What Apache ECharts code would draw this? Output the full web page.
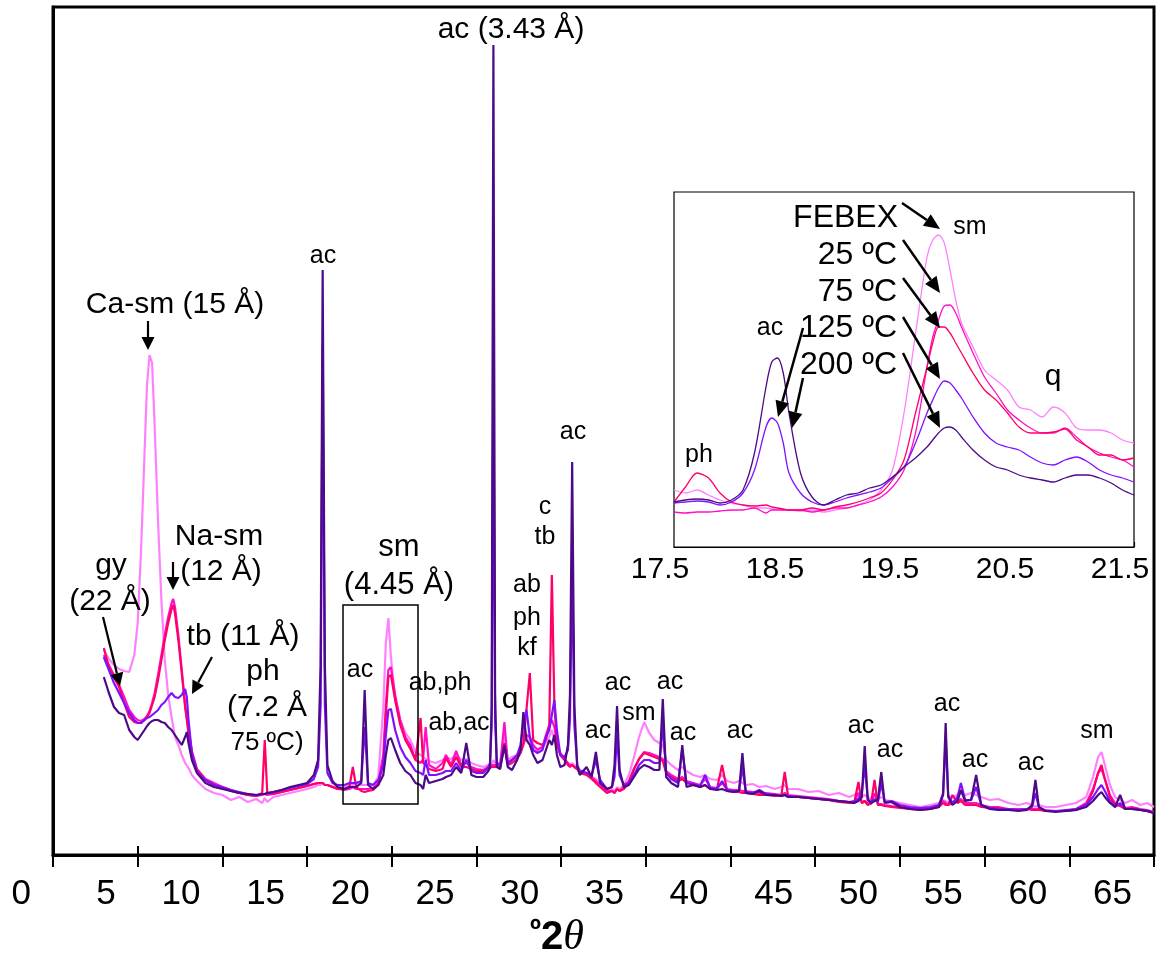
<!DOCTYPE html>
<html><head><meta charset="utf-8">
<script src="https://cdn.jsdelivr.net/npm/echarts@6/dist/echarts.min.js"></script>
<style>html,body{margin:0;padding:0;background:#fff}#c{width:1157px;height:964px}</style>
</head><body><div id="c"></div>
<script>
// ---------- main diffractogram (º2θ) ----------
const twoTheta = [
 3.0,3.3,3.6,3.9,4.2,4.5,4.8,5.0,5.2,5.4,
 5.55,5.7,5.85,6.0,6.2,6.4,6.6,6.8,7.0,7.1,
 7.2,7.4,7.6,7.8,7.9,8.0,8.2,8.5,9.0,9.5,
 10,10.5,11,11.5,12,12.35,12.5,12.65,13,13.5,
 14,14.5,15,15.4,15.65,15.8,15.92,16.05,16.2,16.5,
 16.8,17.2,17.5,17.7,17.9,18.2,18.4,18.6,18.9,19.2,
 19.5,19.65,19.8,19.95,20.2,20.5,20.8,21.1,21.4,21.7,
 21.85,22.0,22.2,22.6,23.0,23.2,23.5,23.8,24.1,24.4,
 24.7,25.0,25.4,25.7,25.8,25.9,26.0,26.1,26.2,26.4,
 26.65,26.85,27.1,27.4,27.6,27.77,27.95,28.15,28.35,28.6,
 28.9,29.1,29.3,29.45,29.6,29.75,29.95,30.2,30.4,30.52,
 30.65,30.78,30.95,31.1,31.5,31.8,32.05,32.3,32.7,33.0,
 33.15,33.3,33.45,33.7,34.0,34.3,34.6,34.9,35.2,35.5,
 35.8,36.0,36.2,36.5,36.9,37.15,37.4,37.8,38.2,38.5,
 38.8,39.2,39.5,39.8,40.2,40.5,40.7,40.9,41.3,41.7,
 42.1,42.6,43.0,43.2,43.4,44.0,44.6,45.2,45.8,46.4,
 47.0,47.3,47.55,47.75,47.92,48.1,48.3,48.5,48.7,48.9,
 49.1,49.5,50.0,50.6,51.2,51.8,52.3,52.55,52.7,52.85,
 53.1,53.4,53.6,53.85,54.2,54.5,54.8,55.3,55.8,56.4,
 57.0,57.5,57.8,58.0,58.2,58.6,59.2,59.8,60.4,61.0,
 61.4,61.7,61.9,62.1,62.4,62.7,63.0,63.3,63.7,64.2,
 64.6,65.0
];
const febex = [
 205,196,190,186,184,183,200,232,305,400,
 470,500,492,430,334,255,195,160,138,128,
 118,110,100,92,90,87,80,74,66,62,
 60,55,58,53,56,52,57,53,58,60,
 62,64,66,68,70,70,72,70,70,68,
 70,68,71,70,72,70,70,70,70,78,
 148,212,237,198,155,135,122,115,103,100,
 98,96,94,92,95,98,96,100,95,96,
 92,90,88,90,92,90,95,92,90,92,
 122,95,98,100,105,112,118,112,108,106,
 108,112,118,125,115,108,100,95,92,90,
 92,90,88,85,82,78,76,72,66,66,
 64,68,66,70,80,98,118,133,122,115,
 112,110,95,90,85,88,84,80,78,80,
 76,75,80,74,72,74,72,70,71,68,
 69,66,68,70,66,66,63,64,60,62,
 58,60,62,58,60,58,56,60,56,58,
 55,54,52,50,48,50,52,55,54,52,
 58,60,62,60,62,60,58,55,56,52,
 50,52,50,48,50,48,48,50,52,58,
 78,98,103,90,70,58,55,52,55,50,
 52,48
];
const c25 = [
 200,190,180,170,158,145,138,135,134,136,
 139,144,152,162,180,200,220,238,252,256,
 248,220,186,150,138,125,104,86,76,72,
 68,65,62,60,59,60,61,60,61,63,
 65,67,69,71,72,72,72,70,70,68,
 66,65,66,68,66,66,66,66,67,72,
 100,150,185,188,160,135,118,110,95,92,
 96,128,90,86,92,100,90,104,90,92,
 88,86,85,88,90,90,92,90,88,90,
 133,92,95,98,102,110,120,118,110,105,
 108,120,130,135,128,112,102,96,92,90,
 90,88,86,84,82,78,74,70,64,64,
 62,66,64,68,74,86,96,103,102,100,
 98,96,84,80,76,78,74,72,70,76,
 68,67,72,66,65,65,64,64,63,62,
 62,61,60,62,60,59,58,57,56,54,
 53,53,62,52,54,52,51,62,51,51,
 50,49,48,47,46,47,48,54,52,50,
 52,54,56,52,52,52,50,48,48,46,
 46,46,46,46,46,45,44,44,46,52,
 66,82,86,76,60,52,50,47,48,46,
 45,43
];
const c75 = [
 207,188,178,168,152,138,133,132,132,135,
 138,142,150,158,175,195,215,232,246,250,
 242,215,182,148,135,122,102,85,75,70,
 67,64,62,60,59,62,115,62,61,63,
 65,67,69,71,72,72,72,70,70,68,
 66,66,68,88,68,64,63,64,65,70,
 92,140,178,180,155,130,115,106,95,137,
 92,90,86,84,86,97,88,98,88,88,
 86,84,84,86,88,88,90,88,86,88,
 112,90,92,96,102,112,145,182,115,112,
 110,115,130,280,150,112,100,95,90,88,
 90,88,86,82,80,76,72,68,62,64,
 62,66,64,66,72,86,96,102,100,98,
 96,94,82,78,74,76,72,70,68,70,
 66,66,90,64,63,63,62,62,61,60,
 60,59,60,83,58,58,57,56,55,53,
 52,52,73,52,54,50,52,75,50,50,
 49,48,47,46,45,46,48,52,50,50,
 60,52,54,50,50,50,48,47,47,45,
 45,46,45,45,45,44,44,44,45,50,
 64,82,90,76,58,50,49,46,47,45,
 44,42
];
const c125 = [
 198,185,172,162,152,142,135,132,132,135,
 137,138,140,142,145,150,153,158,162,161,
 158,157,160,166,158,135,102,83,75,70,
 68,65,63,61,60,61,61,62,63,65,
 67,69,71,76,88,150,510,150,82,72,
 70,70,72,72,72,74,128,72,70,75,
 90,120,145,146,125,108,98,92,84,82,
 80,95,80,80,82,84,84,92,84,95,
 84,82,82,88,92,130,495,135,92,90,
 108,92,95,100,110,130,145,118,105,102,
 105,118,125,140,155,125,100,98,105,135,
 290,130,90,84,82,80,95,75,66,68,
 78,120,80,70,72,80,90,95,95,92,
 92,130,82,76,72,105,72,71,69,80,
 67,66,74,65,64,64,88,63,62,65,
 61,60,59,60,59,58,57,56,55,54,
 53,54,56,62,90,56,53,56,53,72,
 53,54,50,48,47,48,50,62,115,60,
 52,58,72,55,55,68,50,47,46,46,
 45,46,48,62,48,44,44,45,46,50,
 58,66,70,64,54,48,52,46,46,45,
 44,42
];
const c200 = [
 178,162,148,142,140,125,118,115,120,125,
 129,132,134,135,135,133,132,128,125,123,
 120,115,110,118,123,112,95,82,72,68,
 66,64,62,61,60,61,61,62,63,65,
 68,70,72,80,95,190,585,190,90,74,
 68,66,68,68,68,72,165,70,66,70,
 80,100,115,117,105,92,84,80,72,70,
 66,80,72,74,76,78,80,88,82,112,
 80,78,78,84,88,150,810,160,88,86,
 110,88,85,95,105,143,115,110,100,92,
 95,105,115,110,120,100,88,90,110,160,
 393,150,88,80,88,78,103,72,66,68,
 90,149,85,68,70,78,86,90,88,85,
 85,156,78,72,68,110,68,70,68,70,
 66,65,66,64,63,64,102,62,61,64,
 60,60,59,60,58,58,57,56,55,54,
 53,52,54,58,109,55,52,54,55,83,
 52,53,48,46,45,46,48,60,132,58,
 50,54,65,54,55,80,50,46,45,45,
 44,45,50,75,48,44,43,44,45,48,
 54,60,63,58,52,48,60,46,46,45,
 44,42
];
const tickValues = [0,5,10,15,20,25,30,35,40,45,50,55,60,65];
const tickLabels = ['0','5','10','15','20','25','30','35','40','45','50','55','60','65'];

// ---------- inset (17.5–21.5 º2θ) ----------
const insetTheta = [
 17.5,17.6,17.7,17.8,17.9,18.0,18.1,18.2,18.3,18.35,
 18.4,18.45,18.5,18.6,18.7,18.8,18.9,19.0,19.1,19.2,
 19.3,19.4,19.5,19.6,19.7,19.75,19.8,19.85,19.9,19.95,
 20.0,20.1,20.2,20.3,20.4,20.5,20.6,20.7,20.8,20.9,
 21.0,21.1,21.2,21.3,21.4,21.5
];
const inFebex = [57,54,57,52,47,44,42,39,39,38, 38,37,37,36,37,35,37,39,42,47, 57,77,134,213,290,307,312,304,277,247, 224,200,177,167,157,140,137,130,140,134, 119,117,117,114,107,104];
const in25 = [35,34,35,35,36,37,37,39,34,37, 37,37,37,37,35,37,39,39,42,45, 50,60,77,114,180,210,227,241,242,234, 220,194,170,154,137,127,119,114,114,119, 110,100,94,90,87,80];
const in75 = [45,60,74,69,54,45,42,41,42,40, 39,38,37,37,39,37,40,42,45,49, 54,67,87,134,180,204,220,220,214,204, 194,174,157,147,134,120,114,114,115,118, 107,100,92,92,87,89];
const in125 = [44,45,46,45,42,45,54,77,120,129, 124,104,74,54,45,42,45,49,52,55, 59,69,80,104,134,147,159,166,164,157, 149,130,114,104,100,97,90,84,82,87, 90,85,77,72,69,65];
const in200 = [45,47,48,47,44,47,57,94,160,185, 189,174,134,74,50,42,47,52,54,59, 62,70,80,89,100,107,114,119,120,117, 110,97,87,80,77,72,69,67,65,69, 72,72,69,64,57,52];
const insetTicks = [17.5,18.5,19.5,20.5,21.5];

const names = ['FEBEX','25 ºC','75 ºC','125 ºC','200 ºC'];
const colors = ['#FF80FF','#FF10C8','#FF0066','#8010FF','#4B0A86'];

const F = '"Liberation Sans", Arial, sans-serif';
const chart = echarts.init(document.getElementById('c'), null, {renderer:'canvas'});

function pair(xs, ys){ return xs.map((x,i)=>[x, ys[i]]); }
const mainSets = [febex,c25,c75,c125,c200];
const insetSets = [inFebex,in25,in75,in125,in200];

const series = [];
mainSets.forEach((d,i)=>series.push({
  name:names[i], type:'line', xAxisIndex:0, yAxisIndex:0, data:pair(twoTheta,d),
  showSymbol:false, lineStyle:{color:colors[i], width:2.2}, itemStyle:{color:colors[i]}, z:2+i, animation:false
}));
insetSets.forEach((d,i)=>series.push({
  name:names[i], type:'line', xAxisIndex:2, yAxisIndex:1, data:pair(insetTheta,d),
  showSymbol:false, smooth:0.3, lineStyle:{color:colors[i], width:1.3}, itemStyle:{color:colors[i]}, z:2+i, animation:false
}));

// annotation helpers
function txt(t,x,y,size,align){ return {type:'text', z:50, style:{text:t, x:x, y:y, font:size+'px '+F, fill:'#000', align:align||'center', verticalAlign:'middle'}}; }
function arrow(x1,y1,x2,y2,w,L,W){
  w=w||2; L=L||13; W=W||6;
  const a=Math.atan2(y2-y1,x2-x1), bx=x2-L*Math.cos(a), by=y2-L*Math.sin(a);
  const px=-Math.sin(a)*W, py=Math.cos(a)*W;
  return [{type:'line', z:50, shape:{x1:x1,y1:y1,x2:bx,y2:by}, style:{stroke:'#000', lineWidth:w}},
          {type:'polygon', z:50, shape:{points:[[x2,y2],[bx+px,by+py],[bx-px,by-py]]}, style:{fill:'#000'}}];
}
const g = [
  txt('ac (3.43 Å)',511,30,30),
  txt('ac',323,256,25),
  txt('Ca-sm (15 Å)',175,305,30),
  txt('gy',111,566,30), txt('(22 Å)',110,602,30),
  txt('Na-sm',219,537,30), txt('(12 Å)',221,572,30),
  txt('tb (11 Å)',243,637,30),
  txt('ph',263,672,30), txt('(7.2 Å',267,708,30), txt('75 ºC)',267,743,26),
  txt('sm',399,547,31), txt('(4.45 Å)',399,585,31),
  txt('ac',360,670,25), txt('ab,ph',440,683,25), txt('ab,ac',459,723,25),
  txt('q',510,700,30),
  txt('ab',527,585,25), txt('ph',527,618,25), txt('kf',527,648,25),
  txt('c',545,507,25), txt('tb',545,537,25),
  txt('ac',573,432,25),
  txt('ac',598,731,25), txt('ac',618,683,25), txt('sm',639,713,25),
  txt('ac',670,682,25), txt('ac',683,733,25), txt('ac',740,731,25),
  txt('ac',861,726,25), txt('ac',890,750,25), txt('ac',947,704,25),
  txt('ac',975,760,25), txt('ac',1031,763,25), txt('sm',1097,731,25),
  // inset
  txt('FEBEX',898,218,32,'right'), txt('25 ºC',897,255,32,'right'), txt('75 ºC',897,292,32,'right'),
  txt('125 ºC',897,328,32,'right'), txt('200 ºC',897,365,32,'right'),
  txt('sm',970,227,25), txt('ac',770,328,25), txt('ph',699,455,25), txt('q',1053,377,30),
  {type:'rect', z:40, shape:{x:343,y:605,width:75,height:199}, style:{fill:null, stroke:'#000', lineWidth:1.5}},
  {type:'text', z:50, style:{
    text:'{a|º}{b|2}{c|θ}', x:557, y:938, align:'center', verticalAlign:'middle',
    rich:{a:{font:'bold 30px '+F, verticalAlign:'top', padding:[0,0,12,0]}, b:{font:'bold 40px '+F}, c:{font:'italic 42px "Liberation Serif", serif'}}
  }}
];
[
  [148,321,148,350],[103,617,120,686],[173,562,173,590],[212,657,192,694]
].forEach(a=>g.push(...arrow(a[0],a[1],a[2],a[3],2.2,13,6.5)));
[
  [902,203,940,229],[903,240,940,293],[903,278,940,328],[903,317,940,379],[903,353,940,428],
  [803,328,778,417],[803,378,792,428]
].forEach(a=>g.push(...arrow(a[0],a[1],a[2],a[3],2.5,16,7)));

chart.setOption({
  backgroundColor:'#fff',
  animation:false,
  grid:[
    {left:53, right:3, top:7, bottom:109, show:true, borderColor:'#000', borderWidth:3},
    {left:674, right:23, top:192, bottom:417, show:true, borderColor:'#000', borderWidth:1.2, backgroundColor:'#fff', z:1}
  ],
  xAxis:[
    {gridIndex:0, type:'value', min:0, max:65, interval:5,
     axisLine:{show:true, lineStyle:{color:'#000', width:3}},
     axisTick:{show:true, length:12, lineStyle:{color:'#000', width:2}},
     axisLabel:{customValues:tickValues, formatter:v=>tickLabels[tickValues.indexOf(v)], align:'right', padding:[0,22,0,0], margin:22, fontSize:35, fontFamily:F, color:'#000'},
     splitLine:{show:false}},
    {gridIndex:0, type:'value', min:0, max:65, interval:5, position:'bottom',
     axisLine:{show:false}, axisTick:{show:true, inside:true, length:9, lineStyle:{color:'#000', width:2}},
     axisLabel:{show:false}, splitLine:{show:false}},
    {gridIndex:1, type:'value', min:17.5, max:21.5,
     axisLine:{show:true, lineStyle:{color:'#000', width:1.2}},
     axisTick:{show:true, inside:true, length:5, customValues:insetTicks, lineStyle:{color:'#000', width:1.2}},
     axisLabel:{customValues:insetTicks, formatter:v=>v.toFixed(1), padding:[0,28,0,0], margin:8, fontSize:30, fontFamily:F, color:'#000'},
     splitLine:{show:false}}
  ],
  yAxis:[
    {gridIndex:0, type:'value', min:0, max:848, axisLine:{show:true, lineStyle:{color:'#000', width:3}},
     axisTick:{show:false}, axisLabel:{show:false}, splitLine:{show:false}},
    {gridIndex:1, type:'value', min:0, max:355, show:false, splitLine:{show:false}}
  ],
  series:series,
  graphic:g
});
</script></body></html>
